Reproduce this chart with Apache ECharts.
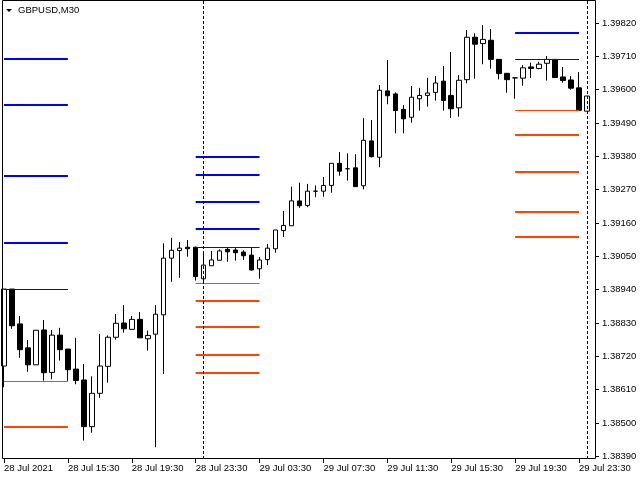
<!DOCTYPE html>
<html>
<head>
<meta charset="utf-8">
<script src="https://cdn.jsdelivr.net/npm/echarts@6/dist/echarts.min.js"></script>
<style>html,body{margin:0;padding:0;background:#fff}#c{width:640px;height:480px}</style>
</head>
<body>
<div id="c"></div>
<script>
const categories = [
 '28 Jul 11:30','28 Jul 12:00','28 Jul 12:30','28 Jul 13:00','28 Jul 13:30','28 Jul 14:00','28 Jul 14:30','28 Jul 15:00',
 '28 Jul 15:30','28 Jul 16:00','28 Jul 16:30','28 Jul 17:00','28 Jul 17:30','28 Jul 18:00','28 Jul 18:30','28 Jul 19:00',
 '28 Jul 19:30','28 Jul 20:00','28 Jul 20:30','28 Jul 21:00','28 Jul 21:30','28 Jul 22:00','28 Jul 22:30','28 Jul 23:00',
 '28 Jul 23:30','29 Jul 00:00','29 Jul 00:30','29 Jul 01:00','29 Jul 01:30','29 Jul 02:00','29 Jul 02:30','29 Jul 03:00',
 '29 Jul 03:30','29 Jul 04:00','29 Jul 04:30','29 Jul 05:00','29 Jul 05:30','29 Jul 06:00','29 Jul 06:30','29 Jul 07:00',
 '29 Jul 07:30','29 Jul 08:00','29 Jul 08:30','29 Jul 09:00','29 Jul 09:30','29 Jul 10:00','29 Jul 10:30','29 Jul 11:00',
 '29 Jul 11:30','29 Jul 12:00','29 Jul 12:30','29 Jul 13:00','29 Jul 13:30','29 Jul 14:00','29 Jul 14:30','29 Jul 15:00',
 '29 Jul 15:30','29 Jul 16:00','29 Jul 16:30','29 Jul 17:00','29 Jul 17:30','29 Jul 18:00','29 Jul 18:30','29 Jul 19:00',
 '29 Jul 19:30','29 Jul 20:00','29 Jul 20:30','29 Jul 21:00','29 Jul 21:30','29 Jul 22:00','29 Jul 22:30','29 Jul 23:00',
 '29 Jul 23:30','30 Jul 00:00'
];
const xTickLabels = ['28 Jul 2021','28 Jul 15:30','28 Jul 19:30','28 Jul 23:30','29 Jul 03:30','29 Jul 07:30','29 Jul 11:30','29 Jul 15:30','29 Jul 19:30','29 Jul 23:30'];
const yTickLabels = ['1.38390','1.38500','1.38610','1.38720','1.38830','1.38940','1.39050','1.39160','1.39270','1.39380','1.39490','1.39600','1.39710','1.39820'];

const opens = [1.38688,1.38942,1.38827,1.38748,1.38692,1.38807,1.38667,1.38790,1.38744,1.38678,
 1.38642,1.38488,1.38598,1.38687,1.38783,1.38830,1.38809,1.38842,1.38778,1.38793,
 1.38857,1.39044,1.39069,1.39080,1.39080,1.38976,1.39019,1.39037,1.39073,1.39071,
 1.39064,1.39054,1.39009,1.39039,1.39075,1.39135,1.39151,1.39233,1.39218,1.39265,
 1.39265,1.39284,1.39357,1.39339,1.39342,1.39283,1.39431,1.39377,1.39596,1.39586,
 1.39535,1.39509,1.39570,1.39581,1.39591,1.39628,1.39581,1.39540,1.39633,1.39773,
 1.39752,1.39763,1.39700,1.39654,1.39639,1.39638,1.39675,1.39670,1.39687,1.39700,
 1.39642,1.39632,1.39606,1.39529];
const closes = [1.38942,1.38821,1.38742,1.38692,1.38806,1.38666,1.38790,1.38742,1.38676,1.38640,
 1.38488,1.38598,1.38688,1.38783,1.38829,1.38811,1.38842,1.38781,1.38789,1.38859,
 1.39044,1.39070,1.39077,1.39075,1.38983,1.39021,1.39038,1.39068,1.39065,1.39062,
 1.39052,1.39005,1.39038,1.39077,1.39137,1.39152,1.39233,1.39217,1.39265,1.39265,
 1.39284,1.39357,1.39331,1.39339,1.39280,1.39433,1.39379,1.39598,1.39580,1.39531,
 1.39504,1.39575,1.39581,1.39589,1.39622,1.39564,1.39537,1.39631,1.39773,1.39750,
 1.39766,1.39700,1.39653,1.39633,1.39639,1.39672,1.39670,1.39684,1.39700,1.39640,
 1.39630,1.39605,1.39532,1.39579];
const lows = [1.38618,1.38811,1.38715,1.38669,1.38692,1.38640,1.38644,1.38706,1.38639,1.38628,
 1.38442,1.38468,1.38583,1.38633,1.38775,1.38798,1.38809,1.38781,1.38739,1.38420,
 1.38662,1.38966,1.38979,1.39049,1.38970,1.38961,1.39019,1.39037,1.39032,1.39036,
 1.39038,1.39003,1.38976,1.39021,1.39062,1.39114,1.39151,1.39210,1.39212,1.39245,
 1.39247,1.39260,1.39316,1.39300,1.39280,1.39271,1.39376,1.39344,1.39552,1.39456,
 1.39456,1.39491,1.39531,1.39544,1.39564,1.39531,1.39507,1.39511,1.39621,1.39636,
 1.39684,1.39669,1.39634,1.39590,1.39570,1.39613,1.39639,1.39667,1.39630,1.39640,
 1.39623,1.39600,1.39532,1.39529];
const highs = [1.38942,1.38942,1.38853,1.38774,1.38806,1.38840,1.38807,1.38814,1.38744,1.38781,
 1.38695,1.38654,1.38794,1.38789,1.38860,1.38889,1.38853,1.38866,1.38805,1.38889,
 1.39093,1.39111,1.39097,1.39104,1.39082,1.39065,1.39068,1.39073,1.39078,1.39078,
 1.39070,1.39078,1.39048,1.39091,1.39137,1.39200,1.39280,1.39293,1.39289,1.39284,
 1.39312,1.39357,1.39394,1.39390,1.39387,1.39506,1.39500,1.39615,1.39698,1.39591,
 1.39549,1.39612,1.39606,1.39639,1.39645,1.39678,1.39724,1.39648,1.39797,1.39786,
 1.39813,1.39800,1.39701,1.39655,1.39641,1.39681,1.39689,1.39692,1.39711,1.39700,
 1.39675,1.39645,1.39658,1.39579];

// level groups (start/end bar indices)
const levelStart = [0, 24, 64];
const levelEnd = [8, 32, 72];
const resistanceLevels = [[1.39702,1.39550,1.39315,1.39095],[1.39379,1.39319,1.39230,1.39140],[1.39788]];
const supportLevels = [[1.38488],[1.38904,1.38818,1.38724,1.38665],[1.39451,1.39328,1.39196,1.39114]];
const rangeHighs = [1.38941, 1.39080, 1.39700];
const rangeLows = [1.38639, 1.38961, 1.39532];
const separators = ['29 Jul 00:00', '30 Jul 00:00'];

const BLUE = '#0000ff', RED = '#ff4500';
const FONT = 'Liberation Sans, Arial, sans-serif';

const candleData = opens.map((o, i) => [o, closes[i], lows[i], highs[i]]);

const lineData = [];
function seg(g, price, color, width) {
  lineData.push([
    {coord: [categories[levelStart[g]], price], lineStyle: {color: color, width: width, type: 'solid'}},
    {coord: [categories[levelEnd[g]], price]}
  ]);
}
for (let g = 0; g < 3; g++) {
  resistanceLevels[g].forEach(p => seg(g, p, BLUE, 2));
  supportLevels[g].forEach(p => seg(g, p, RED, 2));
  seg(g, rangeHighs[g], BLUE, 1);
  seg(g, rangeLows[g], RED, 1);
}
separators.forEach(c => lineData.push({xAxis: c, lineStyle: {color: '#000', width: 1, type: [3, 2]}}));

const chart = echarts.init(document.getElementById('c'), null, {renderer: 'canvas'});
chart.setOption({
  animation: false,
  backgroundColor: '#fff',
  title: {
    text: 'GBPUSD,M30', left: 13, top: 0,
    textStyle: {fontFamily: FONT, fontSize: 9.5, fontWeight: 'normal', color: '#000'}
  },
  graphic: [
    {type: 'rect', shape: {x: 2.5, y: 0.5, width: 593, height: 458}, style: {fill: null, stroke: '#000', lineWidth: 1}, z: 100, silent: true},
    {type: 'polygon', shape: {points: [[6, 9], [12, 9], [9, 12]]}, style: {fill: '#000'}, silent: true}
  ],
  grid: {left: -1, width: 592, top: 1, height: 458, containLabel: false},
  xAxis: {
    type: 'category', data: categories, boundaryGap: true,
    axisLine: {show: false},
    axisTick: {show: true, alignWithLabel: true, length: 4, interval: (i) => i % 8 === 0, lineStyle: {color: '#000'}},
    axisLabel: {
      interval: (i) => i % 8 === 0, align: 'left', margin: 4, color: '#000',
      fontFamily: FONT, fontSize: 9.5, hideOverlap: false,
      formatter: (v, i) => xTickLabels[Math.round(i / 8)]
    },
    splitLine: {show: false}
  },
  yAxis: {
    type: 'value', position: 'right', offset: 4, scale: true,
    min: 1.383812, max: 1.398926,
    axisLine: {show: false},
    axisTick: {show: true, length: 4, customValues: yTickLabels.map(Number), lineStyle: {color: '#000'}},
    axisLabel: {
      customValues: yTickLabels.map(Number), margin: 7, color: '#000',
      fontFamily: FONT, fontSize: 9.5,
      formatter: (v) => v.toFixed(5)
    },
    splitLine: {show: false}
  },
  series: [{
    type: 'candlestick',
    data: candleData,
    barWidth: 5,
    itemStyle: {color: '#ffffff', color0: '#000000', borderColor: '#000000', borderColor0: '#000000', borderColorDoji: '#000000', borderWidth: 1},
    emphasis: {disabled: true},
    markLine: {
      silent: true, symbol: ['none', 'none'], animation: false,
      label: {show: false}, emphasis: {disabled: true},
      data: lineData
    }
  }]
});
</script>
</body>
</html>
